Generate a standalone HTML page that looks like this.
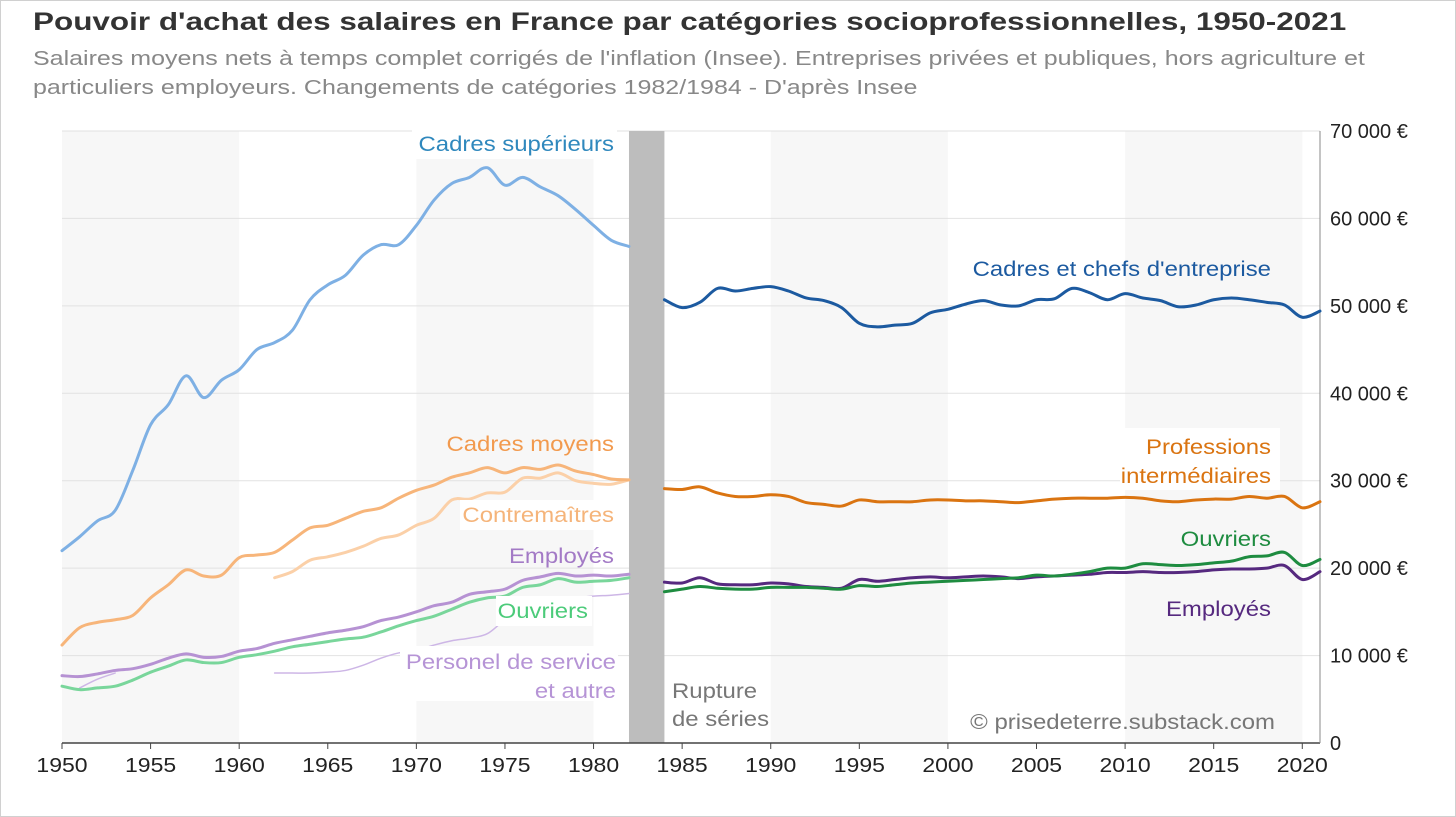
<!DOCTYPE html>
<html><head><meta charset="utf-8"><style>
html,body{margin:0;padding:0;background:#fff;}
body{width:1456px;height:817px;overflow:hidden;position:relative;font-family:"Liberation Sans",sans-serif;}
#frame{position:absolute;left:0;top:0;width:1454px;height:815px;border:1px solid #d0d0d0;}
#title{position:absolute;left:33px;top:8px;font-size:25px;font-weight:bold;color:#333;transform-origin:0 0;transform:scaleX(1.258);white-space:nowrap;}
#sub{position:absolute;left:33px;top:45px;font-size:20px;color:#888;line-height:29px;transform-origin:0 0;transform:scaleX(1.25);white-space:nowrap;}
svg{position:absolute;left:0;top:0;}
</style></head><body>
<div id="frame"></div>
<div id="title">Pouvoir d'achat des salaires en France par catégories socioprofessionnelles, 1950-2021</div>
<div id="sub">Salaires moyens nets à temps complet corrigés de l'inflation (Insee). Entreprises privées et publiques, hors agriculture et<br>particuliers employeurs. Changements de catégories 1982/1984 - D'après Insee</div>
<svg id="chart" width="1456" height="817"></svg>
<script>
const yTicks=[0,10000,20000,30000,40000,50000,60000,70000];
const xTicks=[1950,1955,1960,1965,1970,1975,1980,1985,1990,1995,2000,2005,2010,2015,2020];
const cadresSupYears=[1950,1951,1952,1953,1954,1955,1956,1957,1958,1959,1960,1961,1962,1963,1964,1965,1966,1967,1968,1969,1970,1971,1972,1973,1974,1975,1976,1977,1978,1979,1980,1981,1982];
const cadresSup=[22.0,23.6,25.4,26.6,31.2,36.4,38.7,42.0,39.5,41.5,42.7,45.0,45.8,47.2,50.7,52.4,53.5,55.8,57.0,57.0,59.2,62.1,64.0,64.7,65.8,63.8,64.7,63.6,62.6,61.0,59.2,57.5,56.8];
const cadresMoyens=[11.2,13.2,13.8,14.1,14.6,16.6,18.1,19.8,19.1,19.2,21.2,21.5,21.8,23.2,24.6,24.9,25.7,26.5,26.9,28.0,28.9,29.5,30.4,30.9,31.5,30.9,31.5,31.3,31.8,31.1,30.7,30.2,30.1];
const employesEarly=[7.7,7.6,7.9,8.3,8.5,9.0,9.7,10.2,9.8,9.9,10.5,10.8,11.4,11.8,12.2,12.6,12.9,13.3,14.0,14.4,15.0,15.7,16.1,17.0,17.3,17.6,18.6,19.0,19.4,19.1,19.2,19.1,19.3];
const ouvriersEarly=[6.5,6.1,6.3,6.5,7.2,8.1,8.8,9.5,9.2,9.2,9.8,10.1,10.5,11.0,11.3,11.6,11.9,12.1,12.7,13.4,14.0,14.5,15.3,16.1,16.6,16.8,17.8,18.1,18.8,18.4,18.5,18.6,18.9];
const contreYears=[1962,1963,1964,1965,1966,1967,1968,1969,1970,1971,1972,1973,1974,1975,1976,1977,1978,1979,1980,1981,1982];
const contremaitres=[18.9,19.6,20.9,21.3,21.8,22.5,23.4,23.8,24.9,25.7,27.8,27.9,28.6,28.7,30.3,30.3,30.9,30.0,29.7,29.6,30.1];
const serviceYearsA=[1951,1952,1953];
const serviceA=[6.3,7.3,8.0];
const serviceYearsB=[1962,1963,1964,1965,1966,1967,1968,1969,1970,1971,1972,1973,1974,1975,1976,1977,1978,1979,1980,1981,1982];
const serviceB=[8.0,8.0,8.0,8.1,8.3,8.9,9.7,10.3,10.6,11.2,11.7,12.0,12.5,14.1,15.3,16.0,16.4,16.6,16.8,16.9,17.1];
const lateYears=[1984,1985,1986,1987,1988,1989,1990,1991,1992,1993,1994,1995,1996,1997,1998,1999,2000,2001,2002,2003,2004,2005,2006,2007,2008,2009,2010,2011,2012,2013,2014,2015,2016,2017,2018,2019,2020,2021];
const cadresChefs=[50.7,49.8,50.4,52.0,51.7,52.0,52.2,51.7,50.9,50.6,49.8,48.0,47.6,47.8,48.0,49.2,49.6,50.2,50.6,50.1,50.0,50.7,50.8,52.0,51.5,50.7,51.4,50.9,50.6,49.9,50.1,50.7,50.9,50.7,50.4,50.1,48.7,49.4];
const profInter=[29.1,29.0,29.3,28.6,28.2,28.2,28.4,28.2,27.5,27.3,27.1,27.8,27.6,27.6,27.6,27.8,27.8,27.7,27.7,27.6,27.5,27.7,27.9,28.0,28.0,28.0,28.1,28.0,27.7,27.6,27.8,27.9,27.9,28.2,28.0,28.2,26.9,27.6];
const employesLate=[18.4,18.3,18.9,18.2,18.1,18.1,18.3,18.2,17.9,17.8,17.7,18.7,18.5,18.7,18.9,19.0,18.9,19.0,19.1,19.0,18.8,19.0,19.1,19.2,19.3,19.5,19.5,19.6,19.5,19.5,19.6,19.8,19.9,19.9,20.0,20.3,18.7,19.6];
const ouvriersLate=[17.3,17.6,17.9,17.7,17.6,17.6,17.8,17.8,17.8,17.7,17.6,18.0,17.9,18.1,18.3,18.4,18.5,18.6,18.7,18.8,18.9,19.2,19.1,19.3,19.6,20.0,20.0,20.5,20.4,20.3,20.4,20.6,20.8,21.3,21.4,21.8,20.3,21.0];

const NS='http://www.w3.org/2000/svg';
const svg=document.getElementById('chart');
const X0=62,X1=1320,Y0=743,Y1=131;
const xs=y=>X0+(y-1950)*(X1-X0)/71;
const ys=v=>Y0-v*(Y0-Y1)/70000;
function el(t,a,p){const e=document.createElementNS(NS,t);for(const k in a)e.setAttribute(k,a[k]);(p||svg).appendChild(e);return e;}

[[1950,1960],[1970,1980],[1990,2000],[2010,2020]].forEach(b=>{
  const r=el('rect',{x:xs(b[0]),y:Y1,width:xs(b[1])-xs(b[0]),height:Y0-Y1,fill:'#f7f7f7'});
  
  
});
yTicks.forEach(v=>{
  if(v>0){const l=el('line',{x1:X0,x2:X1,y1:ys(v),y2:ys(v),stroke:'#e2e2e2','stroke-width':1});
  
  }
  const t=el('text',{x:1330,y:ys(v)+7,'text-anchor':'start','font-size':20,fill:'#222'});
  t.textContent=v===0?'0':(v/1000)+' 000 €';
  
  
});
const br=el('rect',{x:xs(1982),y:Y1,width:xs(1984)-xs(1982),height:Y0-Y1,fill:'#bdbdbd'});


const ax=el('line',{x1:X0,x2:X1,y1:Y0,y2:Y0,stroke:'#444','stroke-width':1.5});


const ay=el('line',{x1:X1,x2:X1,y1:Y1,y2:Y0,stroke:'#888','stroke-width':1});


xTicks.forEach(yr=>{
  el('line',{x1:xs(yr),x2:xs(yr),y1:Y0,y2:Y0+6,stroke:'#444'});
  const t=el('text',{x:xs(yr),y:Y0+29,'text-anchor':'middle','font-size':20,fill:'#222',transform:'translate('+xs(yr)+',0) scale(1.15,1) translate('+(-xs(yr))+',0)'});
  t.textContent=yr;
  
  
});

function path(years,vals,color,w,name){
  const p=years.map((y,i)=>[xs(y),ys(vals[i]*1000)]);
  let d='M'+p[0][0]+','+p[0][1];
  for(let i=0;i<p.length-1;i++){
    const a=p[i-1]||p[i],b=p[i],c=p[i+1],e=p[i+2]||c;
    const c1=[b[0]+(c[0]-a[0])/6,b[1]+(c[1]-a[1])/6],c2=[c[0]-(e[0]-b[0])/6,c[1]-(e[1]-b[1])/6];
    d+=' C'+c1[0]+','+c1[1]+' '+c2[0]+','+c2[1]+' '+c[0]+','+c[1];
  }
  const l=el('path',{d:d,fill:'none',stroke:color,'stroke-width':w,'stroke-linejoin':'round','stroke-linecap':'round'});
  
  
}
function label(txt,x,y,color,name,anchor,box){
  if(box){const r=el('rect',box);r.setAttribute('fill','#fff');}
  const t=el('text',{x:x,y:y,'text-anchor':anchor||'end','font-size':21,fill:color,transform:'translate('+x+',0) scale(1.14,1) translate('+(-x)+',0)'});
  t.textContent=txt;
  
  
}
path(serviceYearsA,serviceA,'#cdb6e6',1.5,'line-personnel-service-early');
path(serviceYearsB,serviceB,'#cdb6e6',1.5,'line-personnel-service');
path(cadresSupYears,cadresSup,'#7eb0e4',3,'line-cadres-superieurs');
path(contreYears,contremaitres,'#fbd0a8',3,'line-contremaitres');
path(cadresSupYears,cadresMoyens,'#f7b57a',3,'line-cadres-moyens');
path(cadresSupYears,ouvriersEarly,'#79d69b',3,'line-ouvriers-early');
path(cadresSupYears,employesEarly,'#b692d3',3,'line-employes-early');
path(lateYears,cadresChefs,'#1c5aa0',3,'line-cadres-chefs');
path(lateYears,profInter,'#da7411',3,'line-professions-intermediaires');
path(lateYears,employesLate,'#56297f',3,'line-employes');
path(lateYears,ouvriersLate,'#1e8c40',3,'line-ouvriers');

label('Cadres supérieurs',614,151,'#2f88bd','label-cadres-superieurs','end',{x:412,y:129,width:205,height:30});
label('Cadres moyens',614,451,'#f29a4e','label-cadres-moyens');
label('Contremaîtres',614,522,'#f5b47a','label-contremaitres','end',{x:460,y:500,width:157,height:30});
label('Employés',614,563,'#a37ac6','label-employes-early');
label('Ouvriers',588,618,'#4ccb7a','label-ouvriers-early','end',{x:496,y:596,width:96,height:30});
label('Personel de service',616,669,'#b694d6','label-personnel-service','end',{x:400,y:646,width:218,height:55});
label('et autre',616,698,'#b694d6','label-personnel-service-2');
label('Rupture',672,698,'#777','label-rupture','start');
label('de séries',672,726,'#777','label-de-series','start');
label("Cadres et chefs d'entreprise",1271,276,'#1c5aa0','label-cadres-chefs');
label('Professions',1271,454,'#da7411','label-professions','end',{x:1120,y:428,width:160,height:62});
label('intermédiaires',1271,483,'#da7411','label-intermediaires');
label('Ouvriers',1271,546,'#1e8c40','label-ouvriers');
label('Employés',1271,616,'#56297f','label-employes');
label('© prisedeterre.substack.com',1275,729,'#777','credit');
</script>
</body></html>
